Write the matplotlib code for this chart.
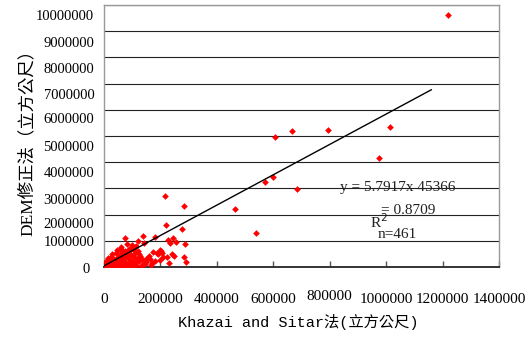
import matplotlib
matplotlib.use('Agg')
import matplotlib.pyplot as plt
from matplotlib.transforms import ScaledTranslation

# ---- data ----
x_ticks = [0, 200000, 400000, 600000, 800000, 1000000, 1200000, 1400000]
x_tick_labels = ['0', '200000', '400000', '600000', '800000', '1000000', '1200000', '1400000']
y_ticks = [0, 1000000, 2000000, 3000000, 4000000, 5000000, 6000000, 7000000, 8000000, 9000000, 10000000]
y_tick_labels = ['0', '1000000', '2000000', '3000000', '4000000', '5000000', '6000000',
                 '7000000', '8000000', '9000000', '10000000']

# outliers / sparse points
x_sparse = [1220000, 607000, 666000, 793000, 1012000, 976000, 571000, 598000, 683000,
            217000, 285000, 464000, 220000, 278000, 539000, 181000, 228000, 243000,
            255000, 234000, 287000, 202000, 189000, 205000, 242000, 249000, 285000,
            291000, 181000, 163000, 74000, 139000, 98000, 57000, 92000, 175000,
            198000, 157000, 222000, 150000, 160000, 170000, 210000, 145000, 165000,
            200000, 230000, 190000, 140000, 120000]
y_sparse = [9620000, 4970000, 5190000, 5240000, 5340000, 4170000, 3240000, 3440000, 2970000,
            2710000, 2330000, 2230000, 1600000, 1440000, 1310000, 1130000, 1030000, 1100000,
            970000, 900000, 870000, 610000, 520000, 550000, 500000, 420000, 370000,
            180000, 230000, 310000, 1100000, 1190000, 840000, 650000, 650000, 580000,
            650000, 330000, 390000, 300000, 420000, 150000, 380000, 120000, 80000,
            280000, 150000, 500000, 900000, 1000000]

# dense cluster near origin
x_cluster = [2000, 8000, 15000, 22000, 30000, 40000, 50000, 60000, 72000, 85000, 100000, 115000, 130000,
             5000, 12000, 20000, 28000, 36000, 45000, 55000, 65000, 75000, 88000, 100000, 112000, 125000, 140000,
             15000, 25000, 35000, 45000, 55000, 65000, 78000, 90000, 105000, 120000, 135000,
             30000, 42000, 55000, 68000, 80000, 95000, 110000, 125000,
             45000, 60000, 75000, 90000, 105000, 120000,
             62000, 80000, 98000, 112000,
             10000, 18000, 26000, 34000, 48000, 58000, 70000, 82000, 95000, 108000,
             4000, 9000, 14000, 38000, 52000, 68000, 86000, 118000, 128000, 150000]
y_cluster = [30000, 60000, 20000, 80000, 40000, 90000, 30000, 70000, 20000, 60000, 40000, 80000, 30000,
             180000, 220000, 150000, 240000, 190000, 210000, 160000, 230000, 200000, 170000, 240000, 190000, 220000, 160000,
             330000, 380000, 300000, 360000, 400000, 320000, 370000, 310000, 390000, 340000, 300000,
             480000, 520000, 460000, 540000, 500000, 470000, 530000, 490000,
             630000, 680000, 610000, 700000, 640000, 600000,
             780000, 860000, 750000, 820000,
             120000, 100000, 130000, 110000, 120000, 100000, 130000, 110000, 120000, 130000,
             100000, 150000, 260000, 280000, 290000, 430000, 440000, 270000, 420000, 200000]

slope = 5.7917
intercept = 45366
trend_x = [0, 1160000]

# ---- figure ----
fig = plt.figure(figsize=(5.26, 3.48), dpi=100)
ax = fig.add_axes([104 / 526, 81 / 348, 395 / 526, 262 / 348])
ax.set_xlim(0, 1400000)
ax.set_ylim(0, 10000000)

ax.yaxis.grid(True, color='#222222', linewidth=0.8, zorder=0)
ax.set_axisbelow(True)

ax.plot(x_cluster + x_sparse, y_cluster + y_sparse, linestyle='none', marker='D',
        markersize=3.4, color='#ff0000', markeredgewidth=0, zorder=3)
ax.plot(trend_x, [slope * v + intercept for v in trend_x], color='black', linewidth=1.0, zorder=4)

for side in ['top', 'left', 'right']:
    ax.spines[side].set_color('#999999')
    ax.spines[side].set_linewidth(1.0)
ax.spines['bottom'].set_color('#333333')
ax.spines['bottom'].set_linewidth(1.4)

serif = ['Liberation Serif', 'Noto Sans CJK TC']
ax.set_xticks(x_ticks)
ax.set_xticklabels(x_tick_labels, fontsize=11, family=serif)
ax.tick_params(axis='x', direction='in', length=4, width=1, color='#555555', pad=19)
ax.set_yticks(y_ticks)
ax.set_yticklabels(y_tick_labels, fontsize=10.5, family=serif)
ax.tick_params(axis='y', length=0, pad=7)

# shift tick labels to mimic the reference placement
y_off_px = [1, 0, 8, 10.5, 10, 10, 8, 10.5, 10.5, 10.5, 10]
x_shift_px = [-5, 0, 0, 0, 0, 0, 0, 0, 0, 0, 0]
for lab, dy, dx in zip(ax.get_yticklabels(), y_off_px, x_shift_px):
    lab.set_transform(lab.get_transform() + ScaledTranslation(dx / 100, -dy / 100, fig.dpi_scale_trans))
for lab, t in zip(ax.get_xticklabels(), x_tick_labels):
    if t == '800000':
        lab.set_transform(lab.get_transform() + ScaledTranslation(0, 3 / 100, fig.dpi_scale_trans))

fig.text(27 / 526, 1 - 138 / 348, 'DEM修正法（立方公尺）', rotation=90, ha='center', va='center',
         fontsize=12.5, family=serif, fontweight='medium')
fig.text(298 / 526, 1 - 322 / 348, 'Khazai and Sitar法(立方公尺)', ha='center', va='center',
         fontsize=11, family=['Liberation Mono', 'Noto Sans CJK TC'])

# trendline annotation
fig.text(340 / 526, 1 - 188 / 348, 'y = 5.7917x 45366', ha='left', va='center', fontsize=11,
         family=serif, color='#222222')
fig.text(381 / 526, 1 - 210 / 348, '= 0.8709', ha='left', va='center', fontsize=11,
         family=serif, color='#222222')
fig.text(370 / 526, 1 - 222 / 348, 'R$^{2}$', ha='left', va='center', fontsize=11,
         family=serif, color='#222222')
fig.text(378 / 526, 1 - 235 / 348, 'n=461', ha='left', va='center', fontsize=11,
         family=serif, color='#222222')

fig.savefig('out.png', dpi=100)
